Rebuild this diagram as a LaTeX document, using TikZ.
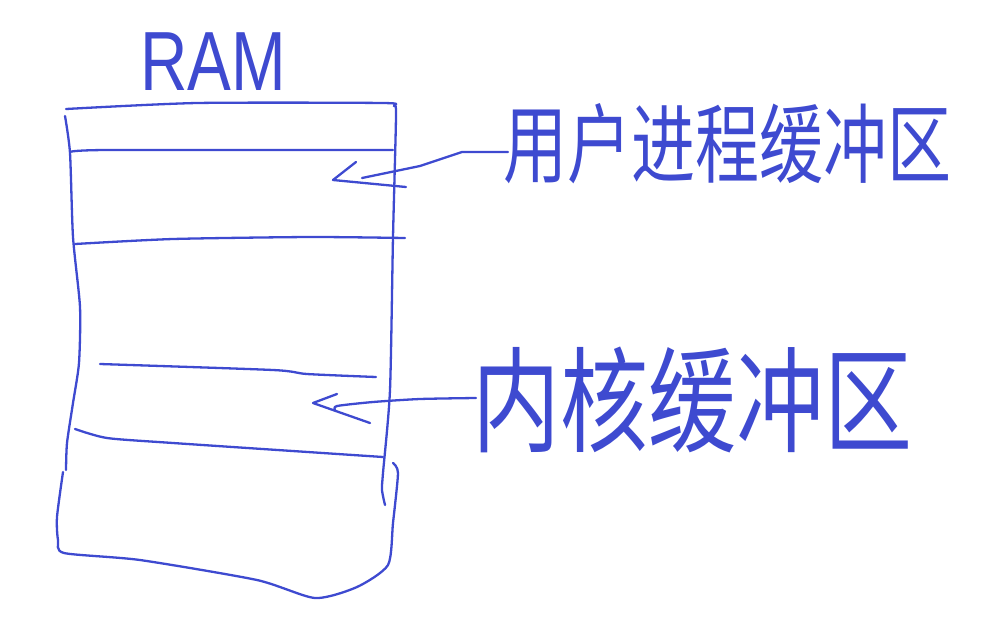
\documentclass[tikz,border=0pt]{standalone}
\usepackage{fontspec}
\setmainfont{Liberation Sans}
\newfontfamily\cjk{Noto Sans CJK SC}
\definecolor{pen}{RGB}{62,74,208}
\begin{document}
\begin{tikzpicture}[x=1pt,y=-1pt,
  stroke/.style={draw=pen,line width=2.3pt,line cap=round,line join=round},
  lbl/.style={text=pen,inner sep=0pt,anchor=center}]
\useasboundingbox (0,0) rectangle (986,622);
% title
\node[lbl,font=\fontsize{80}{80}\selectfont,xscale=0.82,yscale=1.05] (ram) at (213,62) {RAM};
% memory box
\draw[stroke] plot[smooth,tension=0.4] coordinates {(66,109) (197,103) (383,103) (394,106) (396,116) (393,237) (390,390) (383,473) (382,490) (385,505)};
\draw[stroke] plot[smooth,tension=0.4] coordinates {(65,116) (70,153) (73,237) (80,307) (79,363) (73,403) (67,443) (66,470)};
\draw[stroke] plot[smooth,tension=0.4] coordinates {(63,472) (57,517) (58,540) (64,553) (140,560) (257,580) (315,598) (357,587) (388,565) (393,523) (398,473) (393,463)};
% partition lines
\draw[stroke] plot[smooth,tension=0.4] coordinates {(70,152) (107,150) (393,150)};
\draw[stroke] plot[smooth,tension=0.4] coordinates {(75,244) (173,239) (310,237) (405,238)};
\draw[stroke] plot[smooth,tension=0.4] coordinates {(100,364) (273,370) (307,374) (376,377)};
\draw[stroke] plot[smooth,tension=0.4] coordinates {(75,429) (107,438) (173,443) (383,457)};
% labels
\node[lbl,font=\cjk\fontsize{64}{64}\selectfont,yscale=1.35] (user) at (727,144) {用户进程缓冲区};
\node[lbl,font=\cjk\fontsize{88}{88}\selectfont,yscale=1.3] (kern) at (692,400) {内核缓冲区};
% arrow 1
\coordinate (t1) at (333,180);
\coordinate (s1) at (508,152);
\draw[stroke] (s1) -- (462,152) -- (420,166) -- (362,178);
\draw[stroke] (356,162) -- (t1) -- (406,187);
% arrow 2
\coordinate (t2) at (313,403);
\coordinate (s2) at (476,398);
\draw[stroke] plot[smooth,tension=0.4] coordinates {(s2) (420,399) (373,402) (337,406) (335,410)};
\draw[stroke] (337,394) -- (t2) -- (370,423);
\end{tikzpicture}
\end{document}
